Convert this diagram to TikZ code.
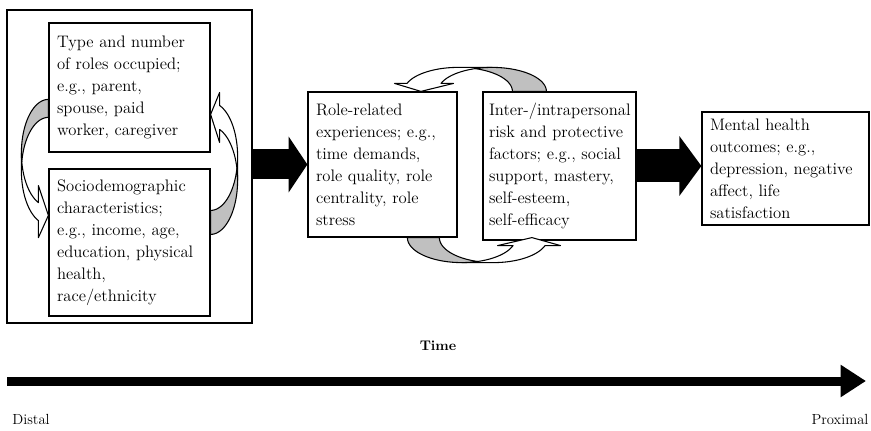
\documentclass[tikz,border=0pt]{standalone}
\usepackage{amsmath}
\usepackage{tikz}
\usetikzlibrary{arrows.meta,calc}

\definecolor{ribbongray}{RGB}{192,192,192}
\newcommand{\boxfont}{\fontsize{12.5}{16.5}\selectfont}
\newcommand{\ribbon}[6]{%
  \pgfmathsetmacro\rbhR{#3/2-(#4+#5)/4}%
  \pgfmathsetmacro\rbyfive{\rbhR+\rbhR*sqrt(1-(#6/#2)^2)}%
  \pgfmathsetmacro\rbdh{(#5-#4)/2}%
  \pgfmathsetmacro\rbta{acos(-#6/#2)}%
  \pgfmathsetmacro\rbtc{asin(#4/(2*\rbhR))}%
  \pgfmathsetmacro\rbtb{180+\rbtc}%
  \pgfmathsetmacro\rbtd{180-\rbtc}%
  \begin{scope}[#1]
    \filldraw[ribbon front] plot[domain=180:\rbta] ({#2+#2*cos(\x)},{\rbhR+\rbhR*sin(\x)})
      -- (#2-#6,\rbyfive-\rbdh) -- (#2,#3-#5/2) -- (#2-#6,\rbyfive+#4+\rbdh) -- (#2-#6,\rbyfive+#4)
      -- plot[domain=\rbta:180] ({#2+#2*cos(\x)},{\rbhR+#4+\rbhR*sin(\x)}) -- cycle;
    \filldraw[ribbon back] plot[domain=270:\rbtb] ({#2+#2*cos(\x)},{\rbhR+#4+\rbhR*sin(\x)})
      -- plot[domain=\rbtd:270] ({#2+#2*cos(\x)},{\rbhR+\rbhR*sin(\x)}) -- cycle;
  \end{scope}}

\begin{document}
\begin{tikzpicture}[x=0.75pt,y=-0.75pt,
    main node/.style={draw,fill=white,line width=0.9pt,align=left,inner xsep=6pt,inner ysep=0pt,font=\boxfont},
    sub node/.style={font=\fontsize{11}{13}\selectfont},
    ribbon front/.style={fill=white,draw,line width=0.8pt,line join=round,samples=40},
    ribbon back/.style={fill=ribbongray,draw,line width=0.8pt,line join=round,samples=40},
    block arrow/.style={line width=22.5pt,-{Triangle[width=41pt,length=14pt]}}]
    \useasboundingbox (0,0) rectangle (871,431);

    \node[draw,line width=0.9pt,minimum width=183.75pt,minimum height=234.75pt] (0) at (129.5,166.5) {};
    \node[main node,text width=108.75pt,minimum height=96.75pt] (1) at (129.5,87.5) {Type and number\\of roles occupied;\\e.g., parent,\\spouse, paid\\worker, caregiver};
    \node[main node,text width=108.75pt,minimum height=110.25pt] (2) at (129.5,242.5) {Sociodemographic\\characteristics;\\e.g., income, age,\\education, physical\\health,\\race/ethnicity};
    \node[main node,text width=99.75pt,minimum height=108.75pt] (3) at (382.5,164.5) {\mbox{Role-related}\\experiences; e.g.,\\time demands,\\role quality, role\\centrality, role\\stress};
    \node[main node,inner xsep=4.5pt,text width=105.75pt,minimum height=111pt] (4) at (559.5,166) {\mbox{Inter-/intrapersonal}\\risk and protective\\factors; e.g., social\\support, mastery,\\\mbox{self-esteem,}\\\mbox{self-efficacy}};
    \node[main node,text width=113.25pt,minimum height=84.75pt] (5) at (785.5,168.5) {Mental health\\outcomes; e.g.,\\depression, negative\\affect, life\\satisfaction};

    \ribbon{shift={($(1.north west)+(-27,77)$)},x={(0.75pt,0pt)},y={(0pt,-0.75pt)}}{27}{142}{18}{52}{10}
    \ribbon{shift={($(2.north east)+(27,66)$)},x={(-0.75pt,0pt)},y={(0pt,0.75pt)}}{27}{145}{24}{50}{9}
    \ribbon{shift={($(4.north west)+(64,-24)$)},x={(0pt,-0.75pt)},y={(-0.75pt,0pt)}}{24}{155}{34}{59}{8}
    \ribbon{shift={($(3.south west)+(100,25)$)},x={(0pt,0.75pt)},y={(0.75pt,0pt)}}{25}{156}{32}{63}{8}

    \draw[block arrow] (0.east |- 3.west) -- (3.west);
    \draw[block arrow,line width=24.75pt,-{Triangle[width=44pt,length=16.5pt]}] (4.east) -- (4.east -| 5.west);

    \node[font=\bfseries\fontsize{10.5}{12}\selectfont] (6) at (438,346) {Time};
    \coordinate (7) at (7,381);
    \coordinate (8) at (866,381);
    \draw[line width=6.75pt,-{Triangle[width=23pt,length=19pt]}] (7) -- (8);
    \node[sub node] (9) at (31,419) {Distal};
    \node[sub node] (10) at (840,419) {Proximal};
\end{tikzpicture}
\end{document}
